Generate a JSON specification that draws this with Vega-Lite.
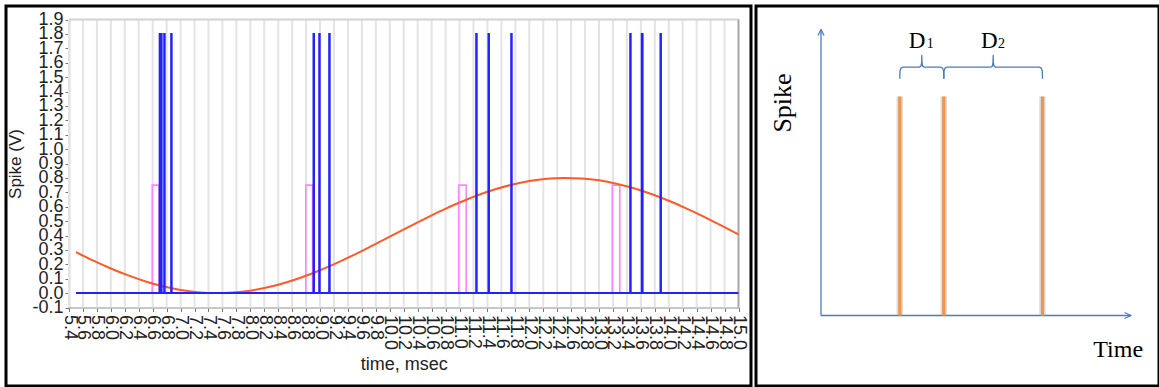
{
  "$schema": "https://vega.github.io/schema/vega-lite/v6.json",
  "background": "white",
  "padding": {"left": 4, "top": 4, "right": 0, "bottom": 0},
  "spacing": 1,
  "config": {"view": {"stroke": "black", "strokeWidth": 3}},
  "datasets": {
    "grid": [
      {"t":5.4,"v":-0.1,"v2":1.9},{"t":5.6,"v":-0.1,"v2":1.9},{"t":5.8,"v":-0.1,"v2":1.9},{"t":6.0,"v":-0.1,"v2":1.9},
      {"t":6.2,"v":-0.1,"v2":1.9},{"t":6.4,"v":-0.1,"v2":1.9},{"t":6.6,"v":-0.1,"v2":1.9},{"t":6.8,"v":-0.1,"v2":1.9},
      {"t":7.0,"v":-0.1,"v2":1.9},{"t":7.2,"v":-0.1,"v2":1.9},{"t":7.4,"v":-0.1,"v2":1.9},{"t":7.6,"v":-0.1,"v2":1.9},
      {"t":7.8,"v":-0.1,"v2":1.9},{"t":8.0,"v":-0.1,"v2":1.9},{"t":8.2,"v":-0.1,"v2":1.9},{"t":8.4,"v":-0.1,"v2":1.9},
      {"t":8.6,"v":-0.1,"v2":1.9},{"t":8.8,"v":-0.1,"v2":1.9},{"t":9.0,"v":-0.1,"v2":1.9},{"t":9.2,"v":-0.1,"v2":1.9},
      {"t":9.4,"v":-0.1,"v2":1.9},{"t":9.6,"v":-0.1,"v2":1.9},{"t":9.8,"v":-0.1,"v2":1.9},{"t":10.0,"v":-0.1,"v2":1.9},
      {"t":10.2,"v":-0.1,"v2":1.9},{"t":10.4,"v":-0.1,"v2":1.9},{"t":10.6,"v":-0.1,"v2":1.9},{"t":10.8,"v":-0.1,"v2":1.9},
      {"t":11.0,"v":-0.1,"v2":1.9},{"t":11.2,"v":-0.1,"v2":1.9},{"t":11.4,"v":-0.1,"v2":1.9},{"t":11.6,"v":-0.1,"v2":1.9},
      {"t":11.8,"v":-0.1,"v2":1.9},{"t":12.0,"v":-0.1,"v2":1.9},{"t":12.2,"v":-0.1,"v2":1.9},{"t":12.4,"v":-0.1,"v2":1.9},
      {"t":12.6,"v":-0.1,"v2":1.9},{"t":12.8,"v":-0.1,"v2":1.9},{"t":13.0,"v":-0.1,"v2":1.9},{"t":13.2,"v":-0.1,"v2":1.9},
      {"t":13.4,"v":-0.1,"v2":1.9},{"t":13.6,"v":-0.1,"v2":1.9},{"t":13.8,"v":-0.1,"v2":1.9},{"t":14.0,"v":-0.1,"v2":1.9},
      {"t":14.2,"v":-0.1,"v2":1.9},{"t":14.4,"v":-0.1,"v2":1.9},{"t":14.6,"v":-0.1,"v2":1.9},{"t":14.8,"v":-0.1,"v2":1.9}
    ],
    "blue": [
      {"i":0,"t":5.5,"v":0},
      {"i":1,"t":6.7,"v":0},{"i":2,"t":6.7,"v":1.8},{"i":3,"t":6.728,"v":1.8},{"i":4,"t":6.728,"v":0},
      {"i":5,"t":6.765,"v":0},{"i":6,"t":6.765,"v":1.8},{"i":7,"t":6.772,"v":1.8},{"i":8,"t":6.772,"v":0},
      {"i":9,"t":6.865,"v":0},{"i":10,"t":6.865,"v":1.8},{"i":11,"t":6.872,"v":1.8},{"i":12,"t":6.872,"v":0},
      {"i":13,"t":8.906,"v":0},{"i":14,"t":8.906,"v":1.8},{"i":15,"t":8.913,"v":1.8},{"i":16,"t":8.913,"v":0},
      {"i":17,"t":8.988,"v":0},{"i":18,"t":8.988,"v":1.8},{"i":19,"t":8.995,"v":1.8},{"i":20,"t":8.995,"v":0},
      {"i":21,"t":9.131,"v":0},{"i":22,"t":9.131,"v":1.8},{"i":23,"t":9.138,"v":1.8},{"i":24,"t":9.138,"v":0},
      {"i":25,"t":11.239,"v":0},{"i":26,"t":11.239,"v":1.8},{"i":27,"t":11.246,"v":1.8},{"i":28,"t":11.246,"v":0},
      {"i":29,"t":11.415,"v":0},{"i":30,"t":11.415,"v":1.8},{"i":31,"t":11.422,"v":1.8},{"i":32,"t":11.422,"v":0},
      {"i":33,"t":11.741,"v":0},{"i":34,"t":11.741,"v":1.8},{"i":35,"t":11.748,"v":1.8},{"i":36,"t":11.748,"v":0},
      {"i":37,"t":13.447,"v":0},{"i":38,"t":13.447,"v":1.8},{"i":39,"t":13.454,"v":1.8},{"i":40,"t":13.454,"v":0},
      {"i":41,"t":13.613,"v":0},{"i":42,"t":13.613,"v":1.8},{"i":43,"t":13.625,"v":1.8},{"i":44,"t":13.625,"v":0},
      {"i":45,"t":13.881,"v":0},{"i":46,"t":13.881,"v":1.8},{"i":47,"t":13.888,"v":1.8},{"i":48,"t":13.888,"v":0},
      {"i":49,"t":15.0,"v":0}
    ],
    "pink": [
      {"i":0,"t":5.5,"v":0},
      {"i":1,"t":6.593,"v":0},{"i":2,"t":6.593,"v":0.75},{"i":3,"t":6.69,"v":0.75},{"i":4,"t":6.69,"v":0},
      {"i":5,"t":8.795,"v":0},{"i":6,"t":8.795,"v":0.75},{"i":7,"t":8.892,"v":0.75},{"i":8,"t":8.892,"v":0},
      {"i":9,"t":10.989,"v":0},{"i":10,"t":10.989,"v":0.75},{"i":11,"t":11.095,"v":0.75},{"i":12,"t":11.095,"v":0},
      {"i":13,"t":13.189,"v":0},{"i":14,"t":13.189,"v":0.75},{"i":15,"t":13.298,"v":0.75},{"i":16,"t":13.298,"v":0},
      {"i":17,"t":15.0,"v":0}
    ],
    "sine": [
      {"t":5.5,"v":0.284},{"t":5.75,"v":0.225},{"t":6.0,"v":0.171},{"t":6.25,"v":0.123},{"t":6.5,"v":0.081},
      {"t":6.75,"v":0.047},{"t":7.0,"v":0.022},{"t":7.25,"v":0.006},{"t":7.5,"v":0.0},{"t":7.75,"v":0.004},
      {"t":8.0,"v":0.017},{"t":8.25,"v":0.04},{"t":8.5,"v":0.072},{"t":8.75,"v":0.112},{"t":9.0,"v":0.159},
      {"t":9.25,"v":0.212},{"t":9.5,"v":0.269},{"t":9.75,"v":0.33},{"t":10.0,"v":0.392},{"t":10.25,"v":0.455},
      {"t":10.5,"v":0.516},{"t":10.75,"v":0.575},{"t":11.0,"v":0.629},{"t":11.25,"v":0.678},{"t":11.5,"v":0.719},
      {"t":11.75,"v":0.753},{"t":12.0,"v":0.778},{"t":12.25,"v":0.794},{"t":12.5,"v":0.8},{"t":12.75,"v":0.796},
      {"t":13.0,"v":0.783},{"t":13.25,"v":0.76},{"t":13.5,"v":0.728},{"t":13.75,"v":0.688},{"t":14.0,"v":0.641},
      {"t":14.25,"v":0.588},{"t":14.5,"v":0.531},{"t":14.75,"v":0.47},{"t":15.0,"v":0.408}
    ],
    "frame": [
      {"k":"top","t":5.4,"t2":15.0,"v":1.9,"v2":1.9},
      {"k":"right","t":15.0,"t2":15.0,"v":-0.1,"v2":1.9}
    ],
    "schem_lines": [
      {"g":"vaxis","i":0,"x":0,"y":0},{"g":"vaxis","i":1,"x":0,"y":28.6},
      {"g":"haxis","i":0,"x":0,"y":0},{"g":"haxis","i":1,"x":31,"y":0},
      {"g":"vhead","i":0,"x":-0.3,"y":28.0},{"g":"vhead","i":1,"x":0,"y":28.6},{"g":"vhead","i":2,"x":0.3,"y":28.0},
      {"g":"hhead","i":0,"x":30.35,"y":0.3},{"g":"hhead","i":1,"x":31,"y":0},{"g":"hhead","i":2,"x":30.35,"y":-0.3},
      {"g":"brace1","i":0,"x":7.88,"y":23.67},{"g":"brace1","i":1,"x":7.9,"y":24.45},{"g":"brace1","i":2,"x":8.0,"y":24.74},{"g":"brace1","i":3,"x":8.2,"y":24.83},
      {"g":"brace1","i":4,"x":9.83,"y":24.83},{"g":"brace1","i":5,"x":10.0,"y":24.95},{"g":"brace1","i":6,"x":10.06,"y":25.25},{"g":"brace1","i":7,"x":10.08,"y":26.0},
      {"g":"brace1","i":8,"x":10.1,"y":25.25},{"g":"brace1","i":9,"x":10.16,"y":24.95},{"g":"brace1","i":10,"x":10.33,"y":24.83},
      {"g":"brace1","i":11,"x":11.96,"y":24.83},{"g":"brace1","i":12,"x":12.16,"y":24.74},{"g":"brace1","i":13,"x":12.26,"y":24.45},{"g":"brace1","i":14,"x":12.28,"y":23.67},
      {"g":"brace2","i":0,"x":12.28,"y":23.67},{"g":"brace2","i":1,"x":12.3,"y":24.45},{"g":"brace2","i":2,"x":12.4,"y":24.74},{"g":"brace2","i":3,"x":12.6,"y":24.83},
      {"g":"brace2","i":4,"x":16.97,"y":24.83},{"g":"brace2","i":5,"x":17.14,"y":24.95},{"g":"brace2","i":6,"x":17.2,"y":25.25},{"g":"brace2","i":7,"x":17.22,"y":26.0},
      {"g":"brace2","i":8,"x":17.24,"y":25.25},{"g":"brace2","i":9,"x":17.3,"y":24.95},{"g":"brace2","i":10,"x":17.47,"y":24.83},
      {"g":"brace2","i":11,"x":21.83,"y":24.83},{"g":"brace2","i":12,"x":22.03,"y":24.74},{"g":"brace2","i":13,"x":22.13,"y":24.45},{"g":"brace2","i":14,"x":22.15,"y":23.67}
    ],
    "spikes": [
      {"x":7.88,"y":0,"y2":21.9},{"x":12.28,"y":0,"y2":21.9},{"x":22.15,"y":0,"y2":21.9}
    ],
    "labels": [
      {"k":"big","txt":"D","x":9.6,"y":26.73},
      {"k":"sub","txt":"1","x":10.92,"y":26.73},
      {"k":"big","txt":"D","x":16.83,"y":26.73},
      {"k":"sub","txt":"2","x":18.05,"y":26.73},
      {"k":"side","txt":"Spike","x":-3.78,"y":21.25},
      {"k":"time","txt":"Time","x":29.72,"y":-4.17}
    ]
  },
  "hconcat": [
    {
      "width": 745,
      "height": 380,
      "encoding": {
        "x": {
          "field": "t", "type": "quantitative",
          "scale": {"domain": [5.4, 15.0], "range": [63, 732.5], "nice": false, "zero": false},
          "axis": {
            "orient": "bottom", "offset": -78.5,
            "values": [5.4,5.6,5.8,6.0,6.2,6.4,6.6,6.8,7.0,7.2,7.4,7.6,7.8,8.0,8.2,8.4,8.6,8.8,9.0,9.2,9.4,9.6,9.8,10.0,10.2,10.4,10.6,10.8,11.0,11.2,11.4,11.6,11.8,12.0,12.2,12.4,12.6,12.8,13.0,13.2,13.4,13.6,13.8,14.0,14.2,14.4,14.6,14.8,15.0],
            "format": ".1f",
            "labelAngle": 90, "labelAlign": "left", "labelBaseline": "middle",
            "labelFont": "Liberation Sans", "labelFontSize": 18, "labelColor": "#222",
            "labelOverlap": false, "labelFlush": false, "labelBound": false, "labelPadding": 3,
            "tickSize": 4, "tickColor": "#777", "domainColor": "#b5b5b5", "domainWidth": 1.5,
            "grid": false,
            "title": "time, msec", "titleFont": "Liberation Sans", "titleFontSize": 18,
            "titleFontWeight": "normal", "titleColor": "#222", "titlePadding": 6
          }
        },
        "y": {
          "field": "v", "type": "quantitative",
          "scale": {"domain": [-0.1, 1.9], "range": [301.5, 13.5], "nice": false, "zero": false},
          "axis": {
            "orient": "left", "offset": -63,
            "values": [-0.1,0,0.1,0.2,0.3,0.4,0.5,0.6,0.7,0.8,0.9,1.0,1.1,1.2,1.3,1.4,1.5,1.6,1.7,1.8,1.9],
            "labelExpr": "replace(format(datum.value, '.1f'), '−', '-')",
            "labelFont": "Liberation Sans", "labelFontSize": 18, "labelColor": "#222",
            "labelOverlap": false, "labelFlush": false, "labelBound": false, "labelPadding": 2,
            "labelBaseline": "middle",
            "tickSize": 4, "tickColor": "#777", "domainColor": "#b5b5b5", "domainWidth": 1.5,
            "grid": false,
            "title": "Spike (V)", "titleFont": "Liberation Sans", "titleFontSize": 17,
            "titleFontWeight": "normal", "titleColor": "#222", "titlePadding": 7
          }
        }
      },
      "layer": [
        {
          "data": {"name": "grid"},
          "mark": {"type": "rule", "color": "#e4e4e4", "strokeWidth": 2},
          "encoding": {"y2": {"field": "v2"}}
        },
        {
          "data": {"name": "frame"},
          "transform": [{"filter": "datum.k == 'top'"}],
          "mark": {"type": "rule", "color": "#d2d2d2", "strokeWidth": 2},
          "encoding": {"x2": {"field": "t2"}, "y2": {"field": "v2"}}
        },
        {
          "data": {"name": "frame"},
          "transform": [{"filter": "datum.k == 'right'"}],
          "mark": {"type": "rule", "color": "#a8a8a8", "strokeWidth": 2},
          "encoding": {"x2": {"field": "t2"}, "y2": {"field": "v2"}}
        },
        {
          "data": {"name": "pink"},
          "mark": {"type": "line", "color": "#ff85ff", "strokeWidth": 1.6},
          "encoding": {"order": {"field": "i", "type": "quantitative"}}
        },
        {
          "data": {"name": "sine"},
          "mark": {"type": "line", "color": "#ff5a26", "strokeWidth": 2, "interpolate": "monotone"}
        },
        {
          "data": {"name": "blue"},
          "mark": {"type": "line", "color": "#2222ff", "strokeWidth": 2},
          "encoding": {"order": {"field": "i", "type": "quantitative"}}
        }
      ]
    },
    {
      "width": 403,
      "height": 380,
      "encoding": {
        "x": {"field": "x", "type": "quantitative", "scale": {"domain": [-6.5, 33.8], "nice": false, "zero": false}, "axis": null},
        "y": {"field": "y", "type": "quantitative", "scale": {"domain": [-7.05, 30.95], "nice": false, "zero": false}, "axis": null}
      },
      "layer": [
        {
          "data": {"name": "schem_lines"},
          "mark": {"type": "line", "color": "#4a7bc4", "strokeWidth": 1.3, "strokeJoin": "round"},
          "encoding": {"detail": {"field": "g", "type": "nominal"}, "order": {"field": "i", "type": "quantitative"}}
        },
        {
          "data": {"name": "spikes"},
          "mark": {"type": "rule", "color": "#9a9a9a", "strokeWidth": 6.5, "opacity": 0.35},
          "encoding": {"y2": {"field": "y2"}}
        },
        {
          "data": {"name": "spikes"},
          "mark": {"type": "rule", "color": "#f0964c", "strokeWidth": 3.2},
          "encoding": {"y2": {"field": "y2"}}
        },
        {
          "data": {"name": "labels"},
          "transform": [{"filter": "datum.k == 'big'"}],
          "mark": {"type": "text", "font": "Liberation Serif", "fontSize": 23, "color": "black", "align": "center", "baseline": "alphabetic"},
          "encoding": {"text": {"field": "txt"}}
        },
        {
          "data": {"name": "labels"},
          "transform": [{"filter": "datum.k == 'sub'"}],
          "mark": {"type": "text", "font": "Liberation Serif", "fontSize": 14, "color": "black", "align": "center", "baseline": "alphabetic"},
          "encoding": {"text": {"field": "txt"}}
        },
        {
          "data": {"name": "labels"},
          "transform": [{"filter": "datum.k == 'side'"}],
          "mark": {"type": "text", "font": "Liberation Serif", "fontSize": 26, "color": "black", "align": "center", "baseline": "middle", "angle": 270},
          "encoding": {"text": {"field": "txt"}}
        },
        {
          "data": {"name": "labels"},
          "transform": [{"filter": "datum.k == 'time'"}],
          "mark": {"type": "text", "font": "Liberation Serif", "fontSize": 24, "color": "black", "align": "center", "baseline": "alphabetic"},
          "encoding": {"text": {"field": "txt"}}
        }
      ]
    }
  ]
}
